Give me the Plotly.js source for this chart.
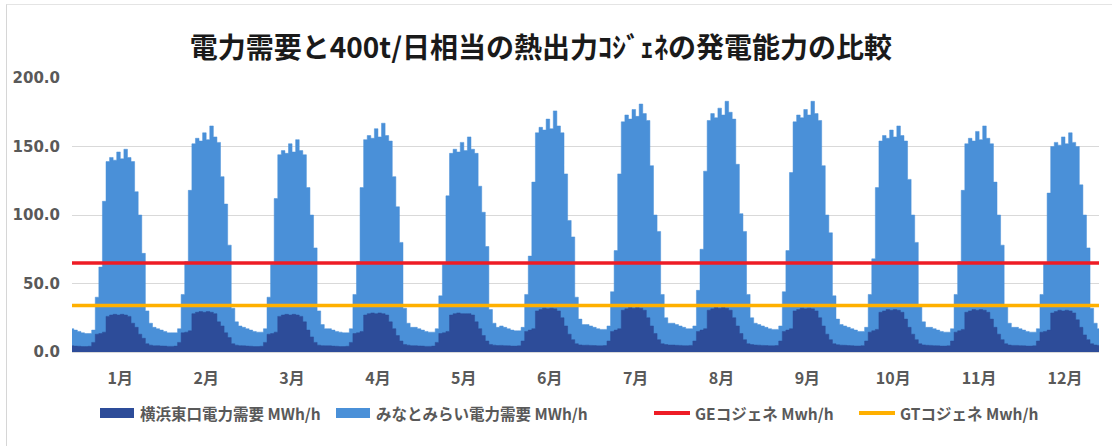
<!DOCTYPE html>
<html>
<head>
<meta charset="utf-8">
<script src="https://cdn.plot.ly/plotly-3.0.1.min.js"></script>
<style>
  html, body { margin:0; padding:0; background:#fff; }
  #wrap { position:relative; width:1113px; height:446px; }
  #chart { position:absolute; left:0; top:0; width:1113px; height:446px; }
  #frame { position:absolute; left:6px; top:4px; width:1106px; height:442px; border-left:1px solid #d6d6d6; border-top:1px solid #e4e4e4; box-sizing:border-box; pointer-events:none; }
</style>
</head>
<body>
<div id="wrap"><div id="chart"></div><div id="frame"></div></div>
<script>
// ---- data ----
const chartTitle = '電力需要と400t/日相当の熱出力ｺｼﾞｪﾈの発電能力の比較';
const months = ['1月','2月','3月','4月','5月','6月','7月','8月','9月','10月','11月','12月'];
const seriesNames = ['横浜東口電力需要 MWh/h', 'みなとみらい電力需要 MWh/h', 'GEコジェネ Mwh/h', 'GTコジェネ Mwh/h'];

// hourly (0-23h) typical-day demand for each month, MWh/h
const minatomiraiDemand = [
  [17,16,15,14,13.5,13.5,16,40,62,110,139,142,140,146,141,148,142,139,117,100,72,30,21,18],
  [17,16,15,14,14,14,17,42,66,118,152,156,154,160,155,165,157,153,128,108,78,32,22,19],
  [18,17,16,15,14.5,14.5,17,40,64,112,144,147,145,152,146,155,147,144,120,100,76,30,20,17],
  [17,16,15,14.5,14,14,17,42,66,120,155,158,156,163,157,167,158,154,128,106,80,32,21,18],
  [18,17,16,15,14.5,14.5,17,41,64,114,145,148,146,153,147,157,148,145,121,102,77,31,21,18],
  [19,18,17,16,15.5,15.5,18,42,70,124,160,164,162,170,163,176,165,160,130,96,84,40,24,20],
  [20,19,18,17,16.5,16.5,19,44,74,130,168,173,170,177,172,181,174,169,136,100,88,42,25,21],
  [21,20,19,18,17,17,19,45,75,132,169,174,171,178,173,183,175,170,137,101,88,42,25,21],
  [20,19,18,17,16.5,16.5,19,44,74,131,168,173,171,177,173,183,174,169,136,100,87,41,24,20],
  [19,18,17,16,15,15,18,42,68,120,154,158,156,162,157,165,158,154,126,100,80,34,22,18],
  [18,17,16,15,14.5,14.5,17,42,66,118,152,156,154,161,155,165,156,152,124,100,78,33,21,18],
  [18,17,16,15,14.5,14.5,17,42,65,116,150,153,151,157,152,160,153,150,122,100,76,32,21,17]
];
const yokohamaEastDemand = [
  [4.5,4.3,4.2,4.0,4.0,4.2,7,13,13.5,14.5,26,27,27.5,27,27.5,27,26,21,18,13,10,6,5,4.5],
  [4.6,4.4,4.3,4.1,4.1,4.3,7,14,14.5,15.5,28,29,29.5,29,29.5,29,28,22,19,14,10.5,6,5,4.6],
  [4.5,4.3,4.2,4.0,4.0,4.2,7,13,13.5,14.5,26,27,27.5,27,27.5,27,26,22,16,11,7,5,4.6,4.5],
  [4.5,4.3,4.2,4.0,4.0,4.2,7,13.5,14,15,27,28,28.5,28,28.5,28,27,22,17,12,8,5.5,5,4.6],
  [4.6,4.4,4.3,4.1,4.1,4.3,7,13.5,14,15,27,28,28.5,28,28,28,27,22,17,12,8,5.5,5,4.7],
  [4.8,4.6,4.5,4.3,4.3,4.5,8,15,16,17,30,31,32,31.5,32,31.5,30,25,19,13,9,6,5.2,4.9],
  [5,4.8,4.7,4.5,4.5,4.7,8,15,16,17,30.5,31.5,32.5,32,32.5,32,30.5,25,19,13.5,9,6,5.4,5.1],
  [5.1,4.9,4.8,4.6,4.6,4.8,8,15,16,17,30.5,31.5,32.5,32,32.5,32,30.5,25,19,13.5,9,6,5.4,5.1],
  [5,4.8,4.7,4.5,4.5,4.7,8,15,16,17,30,31,32,31.5,32,31.5,30,25,19,13,9,6,5.3,5],
  [4.9,4.7,4.6,4.4,4.4,4.6,8,14.5,15.5,16.5,29,30,31,30.5,31,30.5,29,24,18,13,9,6,5.2,4.9],
  [4.8,4.6,4.5,4.3,4.3,4.5,8,14.5,15.5,16.5,29,30,31,30.5,31,30.5,29,24,18,13,9,6,5.1,4.8],
  [4.8,4.6,4.5,4.3,4.3,4.5,8,14.5,15,16,28.5,29.5,30.5,30,30.5,30,28.5,23.5,18,12.5,9,6,5.1,4.8]
];
const geCogenCapacity = 65;   // MWh/h
const gtCogenCapacity = 34;   // MWh/h

// ---- build traces ----
const colors = { dark:'#2d4c99', light:'#4a90d8', red:'#ee1c25', orange:'#ffb000' };
const hoursPerDay = minatomiraiDemand[0].length;
const mm = minatomiraiDemand.flat();
const ye = yokohamaEastDemand.flat();
const idx = mm.map((_, i) => i);
const tickvals = months.map((_, m) => m * hoursPerDay + 13.5);

const traces = [
  { type:'scatter', mode:'lines', x:idx, y:mm, name:seriesNames[1], fill:'tozeroy', fillcolor:colors.light, line:{color:colors.light, width:0.5, shape:'hvh'} },
  { type:'scatter', mode:'lines', x:idx, y:ye, name:seriesNames[0], fill:'tozeroy', fillcolor:colors.dark, line:{color:colors.dark, width:0.5, shape:'hvh'} },
  { type:'scatter', mode:'lines', x:idx, y:idx.map(() => geCogenCapacity), name:seriesNames[2], line:{color:colors.red, width:3.5} },
  { type:'scatter', mode:'lines', x:idx, y:idx.map(() => gtCogenCapacity), name:seriesNames[3], line:{color:colors.orange, width:3.5} }
];

// ---- manual legend (px -> paper) ----
const plotL = 72, plotR = 1099, plotT = 78, plotB = 352;
const px = v => (v - plotL) / (plotR - plotL);
const py = v => (plotB - v) / (plotB - plotT);
const legY = 413;
const legendItems = [
  { kind:'box',  x0:100, x1:134, color:colors.dark,  tx:138, text:seriesNames[0] },
  { kind:'box',  x0:336, x1:370, color:colors.light, tx:374, text:seriesNames[1] },
  { kind:'line', x0:654, x1:690, color:colors.red,    tx:693, text:seriesNames[2] },
  { kind:'line', x0:859, x1:895, color:colors.orange, tx:898, text:seriesNames[3] }
];
const legendFont = { family:'Noto Sans CJK JP, Noto Sans, sans-serif', size:15.5, color:'#595959', weight:'bold' };
const shapes = [];
const annotations = [];
legendItems.forEach(it => {
  if (it.kind === 'box') {
    shapes.push({ type:'rect', xref:'paper', yref:'paper', x0:px(it.x0), x1:px(it.x1), y0:py(legY+5), y1:py(legY-5), fillcolor:it.color, line:{width:0} });
  } else {
    shapes.push({ type:'line', xref:'paper', yref:'paper', x0:px(it.x0), x1:px(it.x1), y0:py(legY), y1:py(legY), line:{color:it.color, width:4} });
  }
  annotations.push({ xref:'paper', yref:'paper', x:px(it.tx), y:py(legY), xanchor:'left', yanchor:'middle', showarrow:false, text:it.text, font:legendFont });
});

const tickFont = { family:'DejaVu Sans, sans-serif', size:15, color:'#595959', weight:'bold' };
const layout = {
  width:1113, height:446,
  margin:{ l:plotL, r:1113-plotR, t:plotT, b:446-plotB, pad:0 },
  paper_bgcolor:'#ffffff', plot_bgcolor:'#ffffff',
  showlegend:false,
  title:{ text:chartTitle, x:0.486, xanchor:'center', xref:'container', y:1-48/446, yanchor:'middle', yref:'container',
          font:{ family:'Noto Sans CJK JP, sans-serif', size:28, color:'#1a1a1a', weight:'bold' } },
  xaxis:{ range:[0, idx.length-1], tickmode:'array', tickvals:tickvals, ticktext:months,
          showgrid:false, zeroline:false, showline:true, linecolor:'#d9d9d9', linewidth:1, ticks:'',
          ticklabelstandoff:12, tickfont:{ family:'Noto Sans CJK JP, sans-serif', size:16, color:'#595959', weight:'bold' }, fixedrange:true },
  yaxis:{ range:[0,200], tickmode:'linear', tick0:0, dtick:50, tickformat:'.1f',
          showgrid:true, gridcolor:'#d9d9d9', gridwidth:1, zeroline:false, showline:false, ticks:'',
          ticklabelstandoff:11, tickfont:tickFont, fixedrange:true },
  shapes:shapes,
  annotations:annotations
};

Plotly.newPlot('chart', traces, layout, { displayModeBar:false, staticPlot:true });
</script>
</body>
</html>
